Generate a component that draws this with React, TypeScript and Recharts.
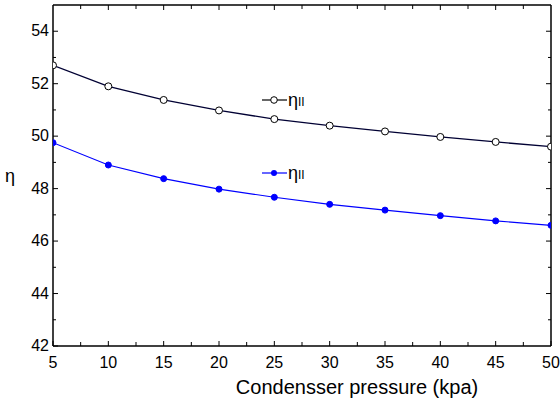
import React from 'react';
import { LineChart, Line, XAxis, YAxis, Label } from 'recharts';

const pressures = [5, 10, 15, 20, 25, 30, 35, 40, 45, 50];
const etaUpper = [52.7, 51.9, 51.38, 50.98, 50.65, 50.4, 50.18, 49.97, 49.78, 49.6];
const etaLower = [49.75, 48.9, 48.38, 47.98, 47.67, 47.4, 47.18, 46.97, 46.77, 46.6];
const xTicks = [5, 7.5, 10, 12.5, 15, 17.5, 20, 22.5, 25, 27.5, 30, 32.5, 35, 37.5, 40, 42.5, 45, 47.5, 50];
const yTicks = [42, 43, 44, 45, 46, 47, 48, 49, 50, 51, 52, 53, 54];

const data = pressures.map((p, i) => ({ p, a: etaUpper[i], b: etaLower[i] }));

const FONT = '"Liberation Sans", Arial, sans-serif';

const BottomTick = (props: any) => {
  const { x, y, payload } = props;
  const v = payload.value;
  const major = v % 5 === 0;
  return (
    <g>
      <line x1={x} x2={x} y1={y} y2={y - (major ? 5 : 4)} stroke="#000" strokeWidth={1} />
      {major && (
        <text x={x} y={y + 22} textAnchor="middle" fontFamily={FONT} fontSize={16} fill="#000">
          {v}
        </text>
      )}
    </g>
  );
};

const TopTick = (props: any) => {
  const { x, y, payload } = props;
  const v = payload.value;
  const major = v % 5 === 0;
  if (v === 5 || v === 50) return <g />;
  return <line x1={x} x2={x} y1={y} y2={y + (major ? 5 : 4)} stroke="#000" strokeWidth={1} />;
};

const LeftTick = (props: any) => {
  const { x, y, payload } = props;
  const v = payload.value;
  const major = v % 2 === 0;
  return (
    <g>
      <line x1={x} x2={x + (major ? 5 : 3)} y1={y} y2={y} stroke="#000" strokeWidth={1} />
      {major && (
        <text x={x - 4} y={y + 5} textAnchor="end" fontFamily={FONT} fontSize={16} fill="#000">
          {v}
        </text>
      )}
    </g>
  );
};

const RightTick = (props: any) => {
  const { x, y, payload } = props;
  const v = payload.value;
  const major = v % 2 === 0;
  if (v === 42) return <g />;
  return <line x1={x} x2={x - (major ? 5 : 3)} y1={y} y2={y} stroke="#000" strokeWidth={1} />;
};

const OpenDot = (props: any) => {
  const { cx, cy } = props;
  return <circle cx={cx} cy={cy} r={3.5} fill="#fff" stroke="#000" strokeWidth={1} />;
};
const BlueDot = (props: any) => {
  const { cx, cy } = props;
  return <circle cx={cx} cy={cy} r={3} fill="#0000ff" stroke="#0000ff" strokeWidth={1} />;
};

const LegendEntry = ({ y, color, open }: { y: number; color: string; open: boolean }) => (
  <g>
    <line x1={262} x2={287} y1={y} y2={y} stroke={color} strokeWidth={1.2} />
    {open ? (
      <circle cx={274} cy={y} r={3.3} fill="#fff" stroke="#000" strokeWidth={1} />
    ) : (
      <circle cx={274} cy={y} r={3} fill="#0000ff" />
    )}
    <text x={288} y={y + 6} fontFamily={FONT} fontSize={18} fill="#000">
      η<tspan fontSize={12}>II</tspan>
    </text>
  </g>
);

export default function App() {
  return (
    <div style={{ position: 'absolute', left: 0, top: 0, width: 560, height: 403, background: '#fff' }}>
      <LineChart width={560} height={403} data={data} margin={{ top: 0, right: 0, bottom: 0, left: 0 }}>
        <XAxis
          xAxisId="bottom"
          dataKey="p"
          type="number"
          domain={[5, 50]}
          ticks={xTicks}
          interval={0}
          height={57}
          tickSize={0}
          tickMargin={0}
          tick={<BottomTick />}
          axisLine={{ stroke: '#000', strokeWidth: 1.5 }}
          allowDataOverflow
        >
          <Label
            value="Condensser pressure (kpa)"
            position="insideBottom"
            offset={9}
            dx={55}
            style={{ fontFamily: FONT, fontSize: 20, fill: '#000' }}
          />
        </XAxis>
        <XAxis
          xAxisId="top"
          orientation="top"
          dataKey="p"
          type="number"
          domain={[5, 50]}
          ticks={xTicks}
          interval={0}
          height={5}
          tickSize={0}
          tickMargin={0}
          tick={<TopTick />}
          axisLine={{ stroke: '#000', strokeWidth: 1.5 }}
          allowDataOverflow
        />
        <YAxis
          yAxisId="left"
          type="number"
          domain={[42, 55]}
          ticks={yTicks}
          interval={0}
          width={53}
          tickSize={0}
          tickMargin={0}
          tick={<LeftTick />}
          axisLine={{ stroke: '#000', strokeWidth: 1.5 }}
          allowDataOverflow
        >
          <Label
            value="η"
            position="insideLeft"
            offset={5}
            style={{ fontFamily: FONT, fontSize: 18, fill: '#000' }}
          />
        </YAxis>
        <YAxis
          yAxisId="right"
          orientation="right"
          type="number"
          domain={[42, 55]}
          ticks={yTicks}
          interval={0}
          width={9}
          tickSize={0}
          tickMargin={0}
          tick={<RightTick />}
          axisLine={{ stroke: '#000', strokeWidth: 1.5 }}
          allowDataOverflow
        />
        <Line
          xAxisId="bottom"
          yAxisId="left"
          dataKey="a"
          type="linear"
          stroke="#000033"
          strokeWidth={1.3}
          dot={<OpenDot />}
          isAnimationActive={false}
        />
        <Line
          xAxisId="bottom"
          yAxisId="left"
          dataKey="b"
          type="linear"
          stroke="#0000ff"
          strokeWidth={1.1}
          dot={<BlueDot />}
          isAnimationActive={false}
        />
        <g>
          <LegendEntry y={100} color="#000" open={true} />
          <LegendEntry y={173} color="#0000ff" open={false} />
        </g>
      </LineChart>
    </div>
  );
}
